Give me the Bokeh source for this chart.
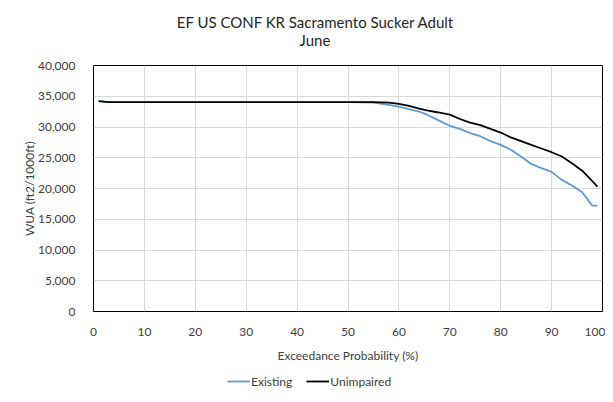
from bokeh.plotting import figure
from bokeh.models import (Range1d, FixedTicker, NumeralTickFormatter, Legend, LegendItem, Div)
from bokeh.layouts import column
from bokeh.embed import file_html
from bokeh.resources import INLINE

# Data
title_lines = ["EF US CONF KR Sacramento Sucker Adult", "June"]
prob = [1, 3, 10, 20, 30, 40, 50, 55, 58, 60, 62, 64, 65.5, 67.5, 70, 72, 74, 76, 78, 80, 82, 84, 86, 88, 90, 92, 94, 96, 98, 99]
existing = [34200, 34050, 34050, 34050, 34050, 34050, 34050, 33950, 33600, 33300, 32900, 32500, 32000, 31200, 30200, 29700, 29000, 28500, 27700, 27100, 26300, 25200, 24000, 23300, 22700, 21400, 20500, 19400, 17200, 17200]
unimpaired = [34200, 34050, 34050, 34050, 34050, 34050, 34050, 34050, 33950, 33750, 33450, 33000, 32700, 32400, 32000, 31300, 30700, 30300, 29700, 29100, 28300, 27700, 27100, 26500, 25900, 25200, 24100, 22900, 21200, 20300]
series_names = ["Existing", "Unimpaired"]
series_colors = ["#5B9BD5", "#000000"]

x_ticks = [0, 10, 20, 30, 40, 50, 60, 70, 80, 90, 100]
y_ticks = [0, 5000, 10000, 15000, 20000, 25000, 30000, 35000, 40000]

FONT = "Lato"
TXT = "#404040"

# ---- main chart ----
p = figure(width=605, height=315, output_backend="svg", toolbar_location=None,
           x_range=Range1d(0, 100), y_range=Range1d(0, 40000))
p.min_border_left = 93
p.min_border_right = 3
p.min_border_top = 15
p.min_border_bottom = 54
p.outline_line_color = "black"
p.outline_line_width = 1

for ax in (p.xaxis[0], p.yaxis[0]):
    ax.axis_line_color = None
    ax.major_tick_line_color = None
    ax.minor_tick_line_color = None
    ax.major_label_text_font = FONT
    ax.major_label_text_font_size = "12px"
    ax.major_label_text_color = TXT
    ax.axis_label_text_font = FONT
    ax.axis_label_text_font_size = "12px"
    ax.axis_label_text_font_style = "normal"
    ax.axis_label_text_color = TXT

p.xaxis.ticker = FixedTicker(ticks=x_ticks)
p.yaxis.ticker = FixedTicker(ticks=y_ticks)
p.yaxis.formatter = NumeralTickFormatter(format="0,0")
p.xaxis.axis_label = "Exceedance Probability (%)"
p.yaxis.axis_label = "WUA (ft2/1000ft)"
p.xaxis.major_label_standoff = 10
p.yaxis.major_label_standoff = 12
p.xaxis.axis_label_standoff = 9
p.yaxis.axis_label_standoff = -2

p.xgrid.grid_line_color = "#d9d9d9"
p.ygrid.grid_line_color = "#d9d9d9"

p.line(prob, existing, line_color=series_colors[0], line_width=1.8)
p.line(prob, unimpaired, line_color=series_colors[1], line_width=1.8)

# ---- legend strip (same series, legend only) ----
lg = figure(width=605, height=29, output_backend="svg", toolbar_location=None,
            x_range=Range1d(0, 100), y_range=Range1d(-2, -1),
            x_axis_type=None, y_axis_type=None)
lg.min_border_left = 0
lg.min_border_right = 0
lg.min_border_top = 0
lg.min_border_bottom = 0
lg.outline_line_color = None
lg.grid.visible = False
lr1 = lg.line(prob, existing, line_color=series_colors[0], line_width=1.8)
lr2 = lg.line(prob, unimpaired, line_color=series_colors[1], line_width=1.8)

legend = Legend(items=[LegendItem(label=series_names[0], renderers=[lr1]),
                       LegendItem(label=series_names[1], renderers=[lr2])],
                orientation="horizontal", location=(134, 3))
legend.border_line_color = None
legend.background_fill_alpha = 0
legend.padding = 0
legend.margin = 0
legend.spacing = 14
legend.glyph_width = 23
legend.label_standoff = 1
legend.label_text_font = FONT
legend.label_text_font_size = "12px"
legend.label_text_color = TXT
lg.add_layout(legend, "center")

title_div = Div(
    text=('<div style="box-sizing:border-box;width:605px;padding-left:25px;padding-top:13px;'
          'text-align:center;font-family:Lato;font-size:15px;line-height:18px;color:#262626;">'
          + "<br>".join(title_lines) + "</div>"),
    width=605, height=50, margin=0)

layout = column(title_div, p, lg, spacing=0)
open("out.html", "w").write(file_html(layout, INLINE))
